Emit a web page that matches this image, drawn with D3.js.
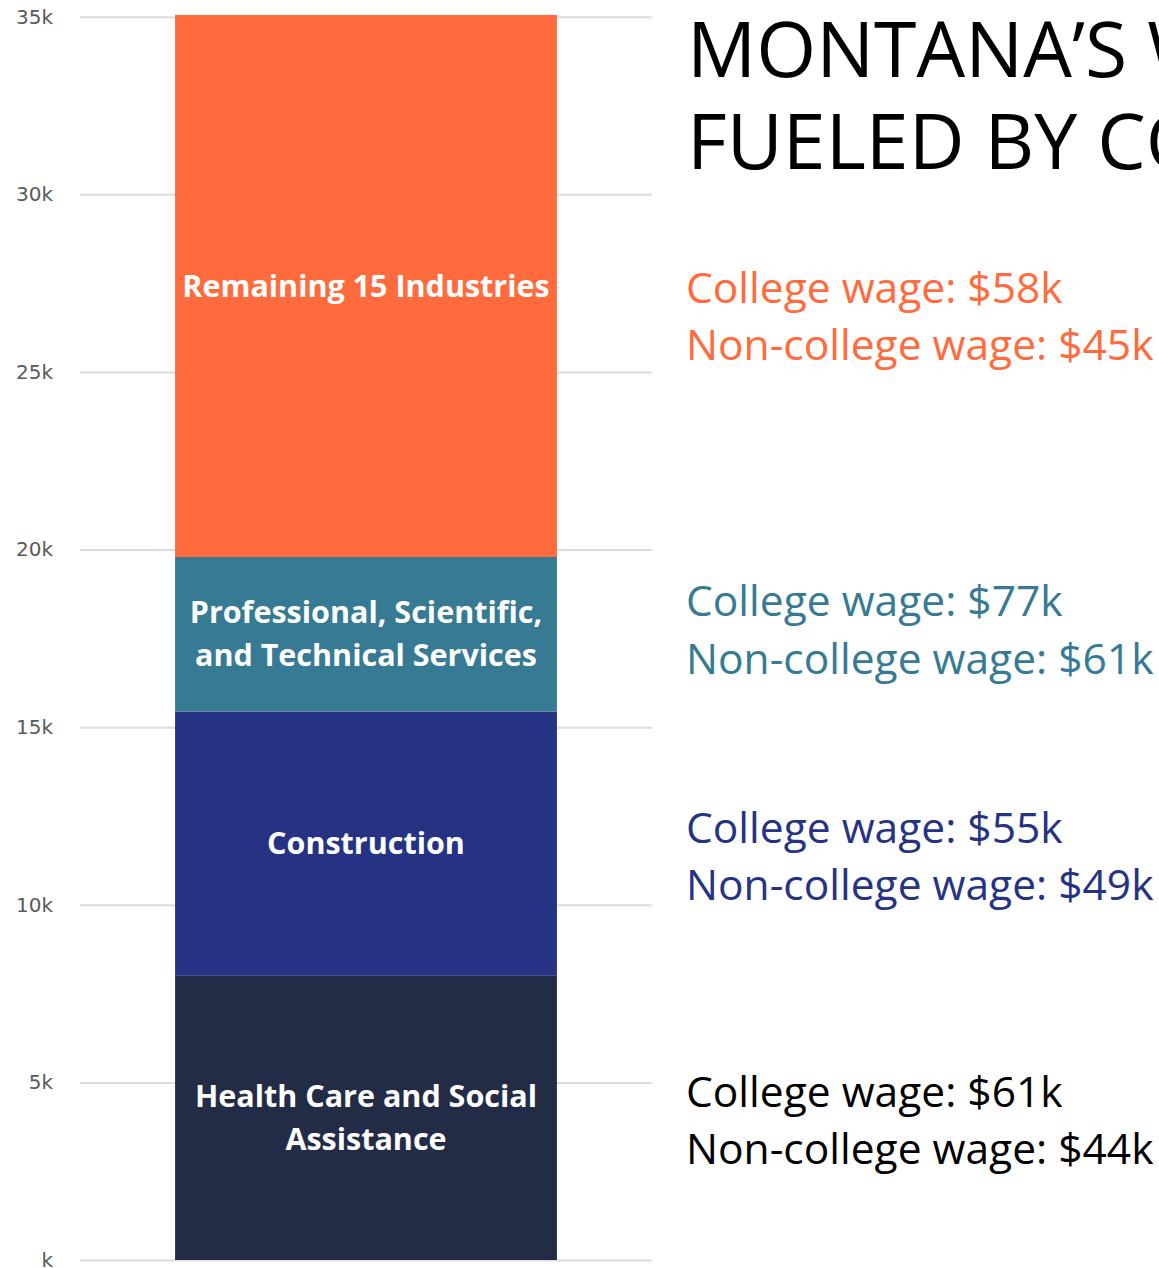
<!DOCTYPE html>
<html>
<head>
<meta charset="utf-8">
<script src="https://cdn.jsdelivr.net/npm/d3@7"></script>
<style>
  html, body { margin: 0; padding: 0; background: #fff; overflow: hidden; }
  svg { display: block; }
</style>
</head>
<body>
<div id="chart"></div>
<script>
'use strict';

// stacked from the bottom up
const industries = ['Health Care and Social Assistance', 'Construction', 'Professional, Scientific, and Technical Services', 'Remaining 15 Industries'];
const labelLines = [['Health Care and Social', 'Assistance'], ['Construction'], ['Professional, Scientific,', 'and Technical Services'], ['Remaining 15 Industries']];
const jobs = [8000, 7440, 4350, 15260];
const collegeWage = [61, 55, 77, 58];
const nonCollegeWage = [44, 49, 61, 45];
const yTicks = [0, 5000, 10000, 15000, 20000, 25000, 30000, 35000];
const titleLines = ['MONTANA\u2019S WAGE GROWTH', 'FUELED BY COLLEGE GRADS'];

const colors = ['#232c47', '#263385', '#367a93', '#ff6b3d'];
const textColors = ['#000000', '#263385', '#367a93', '#ff6b3d'];

const font = '"Open Sans", Carlito, Calibri, sans-serif';

let width = 1159,
    height = 1268;

let svg = d3.select('#chart')
  .append('svg')
    .attr('width', width)
    .attr('height', height);

let y = d3.scaleLinear()
  .domain([0, 35000])
  .range([1260, 16.7]);

let x = d3.scaleBand()
  .domain(['jobs'])
  .range([80, 652])
  .paddingInner(0)
  .paddingOuter(0.249);

// gridlines + tick labels
let axis = d3.axisLeft(y)
  .tickValues(yTicks)
  .tickSize(-(652 - 80))
  .tickPadding(27)
  .tickFormat(d => d === 0 ? 'k' : (d / 1000) + 'k');

let gAxis = svg.append('g')
  .attr('transform', 'translate(80,0)')
  .call(axis);

gAxis.select('.domain').remove();
gAxis.selectAll('.tick line')
  .attr('stroke', '#dcdcdc')
  .attr('stroke-width', 2);
gAxis.selectAll('.tick text')
  .attr('fill', '#5a5a5a')
  .style('font-family', '"DejaVu Sans", Verdana, sans-serif')
  .style('font-size', '20px');

// stack
let stackData = [];
let running = 0;
jobs.map((c, i) => {
  stackData.push({ i: i, name: industries[i], y0: running, y1: running + c });
  running += c;
});

svg.selectAll('rect.seg')
  .data(stackData)
  .enter().append('rect')
    .attr('class', 'seg')
    .attr('x', x('jobs'))
    .attr('width', x.bandwidth())
    .attr('y', d => y(d.y1))
    .attr('height', d => y(d.y0) - y(d.y1))
    .attr('fill', d => colors[d.i]);

// labels inside bar
const lineGap = 43;
stackData.map((d) => {
  let lines = labelLines[d.i];
  let mid = y((d.y0 + d.y1) / 2);
  let first = mid - (lines.length - 1) * lineGap / 2;
  lines.map((t, k) => {
    svg.append('text')
      .attr('x', x('jobs') + x.bandwidth() / 2)
      .attr('y', first + k * lineGap)
      .attr('dy', '0.35em')
      .attr('text-anchor', 'middle')
      .attr('fill', '#ffffff')
      .style('font-family', font)
      .style('font-weight', 'bold')
      .style('font-size', '30.5px')
      .text(t);
  });
});

// wage annotations
const annShift = [-11, -1, -18, 17];
stackData.map((d) => {
  let base = y((d.y0 + d.y1) / 2) + annShift[d.i];
  let g = svg.append('g')
    .attr('fill', textColors[d.i])
    .style('font-family', font)
    .style('font-size', '42.5px');
  g.append('text')
    .attr('x', 686)
    .attr('y', base)
    .text('College wage: $' + collegeWage[d.i] + 'k');
  g.append('text')
    .attr('x', 686)
    .attr('y', base + 57.5)
    .text('Non-college wage: $' + nonCollegeWage[d.i] + 'k');
});

// title (runs off the right edge like the original)
svg.selectAll('text.title')
  .data(titleLines)
  .enter().append('text')
    .attr('class', 'title')
    .attr('x', 687)
    .attr('y', (d, i) => 77 + i * 92)
    .attr('fill', '#000')
    .style('font-family', font)
    .style('font-size', '77px')
    .text(d => d);
</script>
</body>
</html>
